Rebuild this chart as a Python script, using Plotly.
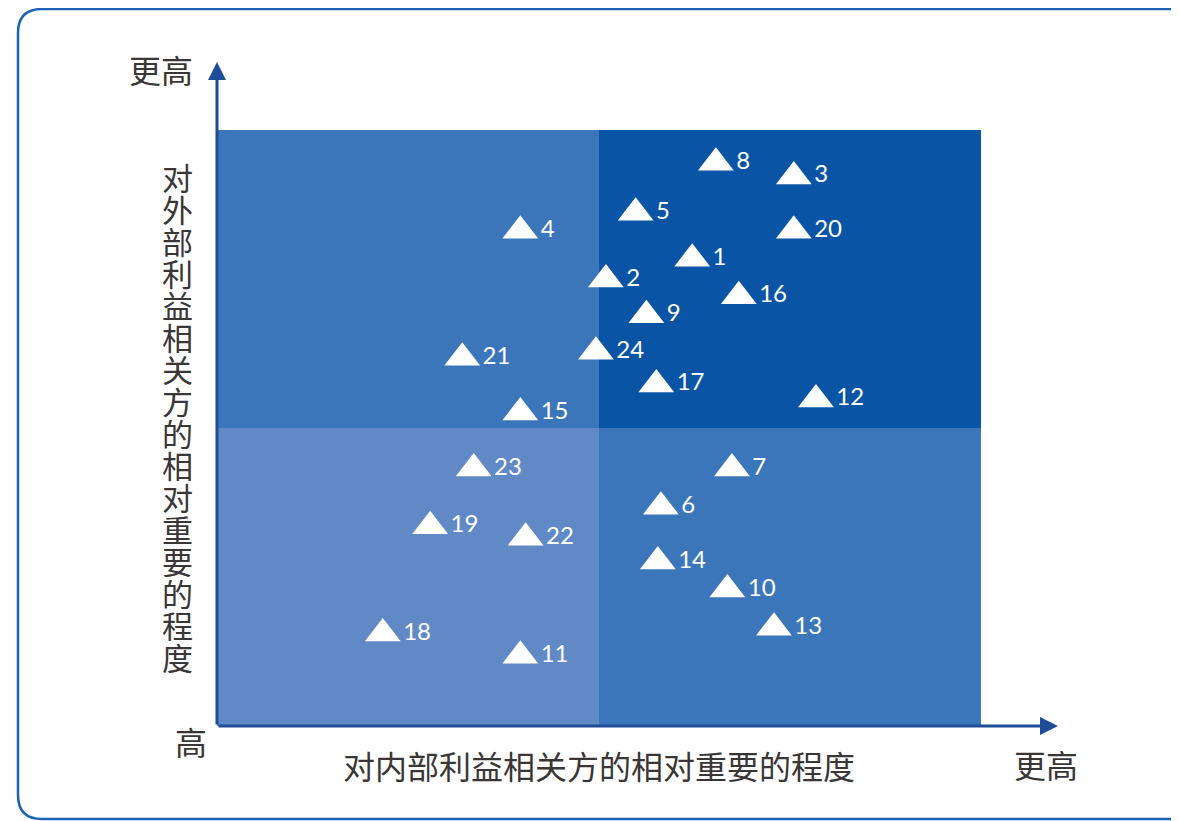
import plotly.graph_objects as go

# ---------------- data ----------------
point_labels = [str(i) for i in range(1, 25)]
internal_importance = [62.2, 50.9, 75.5, 39.7, 54.8, 58.1, 67.4, 65.3, 56.2, 66.8,
                       39.7, 78.4, 72.9, 57.7, 39.7, 68.3, 57.5, 21.7, 27.9, 75.5,
                       32.1, 40.4, 33.6, 49.6]
external_importance = [78.4, 74.9, 92.2, 83.1, 86.1, 36.8, 43.2, 94.5, 68.9, 22.9,
                       11.8, 54.8, 16.5, 27.6, 52.6, 72.1, 57.3, 15.5, 33.5, 83.1,
                       61.8, 31.6, 43.2, 62.8]
x_title = "对内部利益相关方的相对重要的程度"
y_title = "对外部利益相关方的相对重要的程度"
high_label = "更高"
origin_label = "高"
axis_min, axis_mid, axis_max = 0, 50, 100

# ---------------- layout geometry (page pixels) ----------------
PAGE_MARGIN = 8                    # default body margin of the html page
W, H = 1179 - PAGE_MARGIN, 821 - PAGE_MARGIN
L, R, T, B = 217, 981, 130, 726    # plot area in page pixels
PW, PH = R - L, B - T


def px_x(px):
    return (px - L) / PW


def px_y(py):
    return (B - py) / PH


TEXT = "#3a3636"
AXIS = "#1f4c97"
FONT_CJK = "Noto Sans CJK SC"

fig = go.Figure()
fig.add_trace(go.Scatter(
    x=internal_importance, y=external_importance, text=point_labels,
    mode="markers+text", textposition="middle right",
    marker=dict(symbol="triangle-up", size=31, color="white", line=dict(width=0)),
    textfont=dict(family="Lato", size=24, color="white"),
    hoverinfo="skip", cliponaxis=False, showlegend=False,
))

# quadrants
quad_colors = {("L", "B"): "#6089c5", ("R", "B"): "#3b76bb",
               ("L", "T"): "#3b76bb", ("R", "T"): "#0a54a5"}
shapes = []
for (hx, vy), col in quad_colors.items():
    x0, x1 = (axis_min, axis_mid) if hx == "L" else (axis_mid, axis_max)
    y0, y1 = (axis_min, axis_mid) if vy == "B" else (axis_mid, axis_max)
    shapes.append(dict(type="rect", xref="x", yref="y", x0=x0, x1=x1, y0=y0, y1=y1,
                       fillcolor=col, line=dict(width=0), layer="below"))

# rounded frame
fl, ft, fr, fb, rad = 18, 9, 1192, 819, 24
path = (f"M {px_x(fl + rad)},{px_y(ft)} L {px_x(fr - rad)},{px_y(ft)} "
        f"Q {px_x(fr)},{px_y(ft)} {px_x(fr)},{px_y(ft + rad)} "
        f"L {px_x(fr)},{px_y(fb - rad)} Q {px_x(fr)},{px_y(fb)} {px_x(fr - rad)},{px_y(fb)} "
        f"L {px_x(fl + rad)},{px_y(fb)} Q {px_x(fl)},{px_y(fb)} {px_x(fl)},{px_y(fb - rad)} "
        f"L {px_x(fl)},{px_y(ft + rad)} Q {px_x(fl)},{px_y(ft)} {px_x(fl + rad)},{px_y(ft)} Z")
shapes.append(dict(type="path", xref="paper", yref="paper", path=path,
                   line=dict(color="#1c62b4", width=2.5), layer="below"))

annotations = []
# axis arrows
annotations.append(dict(xref="paper", yref="paper", x=px_x(1058), y=0, ax=-(1058 - L), ay=0,
                        text="", showarrow=True, arrowhead=2, arrowsize=1.2, arrowwidth=3,
                        arrowcolor=AXIS, standoff=0, startstandoff=0))
annotations.append(dict(xref="paper", yref="paper", x=0, y=px_y(62), ax=0, ay=(B - 62),
                        text="", showarrow=True, arrowhead=2, arrowsize=1.2, arrowwidth=3,
                        arrowcolor=AXIS, standoff=0, startstandoff=0))

fs = 32
font = dict(family=FONT_CJK, size=fs, color=TEXT)
annotations.append(dict(xref="paper", yref="paper", x=px_x(161), y=px_y(69), text=high_label,
                        showarrow=False, font=font, xanchor="center", yanchor="middle"))
annotations.append(dict(xref="paper", yref="paper", x=px_x(1046), y=px_y(764), text=high_label,
                        showarrow=False, font=font, xanchor="center", yanchor="middle"))
annotations.append(dict(xref="paper", yref="paper", x=px_x(191), y=px_y(741), text=origin_label,
                        showarrow=False, font=font, xanchor="center", yanchor="middle"))
annotations.append(dict(xref="paper", yref="paper", x=px_x(599), y=px_y(765), text=x_title,
                        showarrow=False, font=font, xanchor="center", yanchor="middle"))
# vertical (stacked) y title, one character per step
step = (656.5 - 176.5) / (len(y_title) - 1)
for i, ch in enumerate(y_title):
    annotations.append(dict(xref="paper", yref="paper", x=px_x(177), y=px_y(176.5 + step * i),
                            text=ch, showarrow=False,
                            font=dict(family=FONT_CJK, size=31, color=TEXT),
                            xanchor="center", yanchor="middle"))

fig.update_layout(
    width=W, height=H,
    margin=dict(l=L - PAGE_MARGIN, r=W - (R - PAGE_MARGIN), t=T - PAGE_MARGIN,
                b=H - (B - PAGE_MARGIN), pad=0),
    paper_bgcolor="white", plot_bgcolor="white",
    xaxis=dict(range=[axis_min, axis_max], showgrid=False, zeroline=False,
               showticklabels=False, showline=False, ticks="", fixedrange=True),
    yaxis=dict(range=[axis_min, axis_max], showgrid=False, zeroline=False,
               showticklabels=False, showline=False, ticks="", fixedrange=True),
    shapes=shapes, annotations=annotations,
)

fig.write_html("out.html")
